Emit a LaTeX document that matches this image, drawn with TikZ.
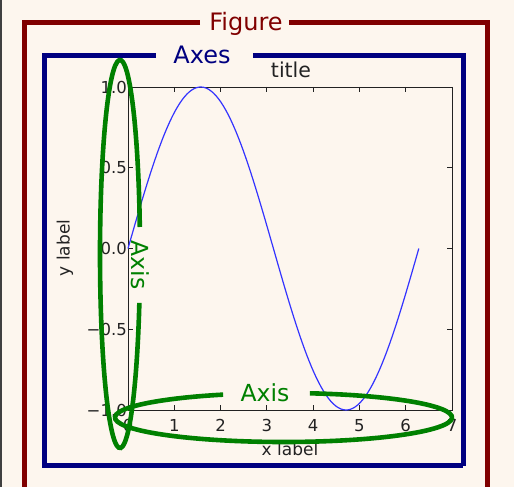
\documentclass[tikz,border=0pt]{standalone}
\usepackage{fontspec}
\setmainfont{DejaVu Sans}
\usetikzlibrary{positioning,calc}

\definecolor{paper}{HTML}{FDF6EE}
\definecolor{figred}{HTML}{800000}
\definecolor{axnavy}{HTML}{000080}
\definecolor{axgreen}{HTML}{008000}
\definecolor{inkgray}{HTML}{222222}

\begin{document}
\begin{tikzpicture}[x=1pt, y=1pt,
    figframe/.style={draw=figred, line width=5pt},
    axframe/.style={draw=axnavy, line width=5pt},
    axisring/.style={draw=axgreen, line width=4.6pt},
    framelabel/.style={font=\fontsize{24}{26}\selectfont, anchor=base, inner sep=0pt},
    ringlabel/.style={font=\fontsize{23.5}{25}\selectfont, text=axgreen, inner sep=0pt},
    ticklabel/.style={font=\fontsize{16.5}{18}\selectfont, text=inkgray, inner sep=1pt},
    plotlabel/.style={font=\fontsize{17}{19}\selectfont, text=inkgray, inner sep=0pt},
    tick/.style={draw=inkgray, line width=0.8pt},
    sine/.style={draw=blue!80!white, line width=1.2pt}
]

% Page and background
\useasboundingbox (0,0) rectangle (514,487);
\fill[paper] (0,0) rectangle (514,487);
\fill[black!75] (0,0) rectangle (2,487);
\clip (0,0) rectangle (514,487);

% Figure frame (runs off the bottom edge)
\node[framelabel, text=figred] (figlbl) at (246,456) {Figure};
\coordinate (figbl) at (24,-10);
\coordinate (figbr) at (487,-10);
\draw[figframe] ([xshift=-9pt]figlbl.base west) ++(0,8) -| (figbl);
\draw[figframe] ([xshift=6pt]figlbl.base east) ++(0,8) -| (figbr);

% Axes frame
\node[framelabel, text=axnavy] (axlbl) at (202,423) {Axes};
\coordinate (axbl) at (44,21);
\coordinate (axbr) at (463,21);
\draw[axframe] ([xshift=-17pt]axlbl.base west) ++(0,8) -| (axbl) -- (axbr);
\draw[axframe] ([xshift=22pt]axlbl.base east) ++(0,8) -| (axbr);

% Plot box
\coordinate (pll) at (128,77);
\coordinate (pur) at (452,400);
\draw[inkgray, line width=0.9pt] (pll) rectangle (pur);

% x ticks
\foreach \k in {0,...,7} {
    \coordinate (xt\k) at ({128+324/7*\k},77);
    \draw[tick] (xt\k) -- ++(0,5);
    \draw[tick] ({128+324/7*\k},400) -- ++(0,-5);
    \node[ticklabel, anchor=north] at ([yshift=-8pt]xt\k) {\k};
}

% y ticks
\foreach \v/\lbl in {-1/−1.0, -0.5/−0.5, 0/0.0, 0.5/0.5, 1/1.0} {
    \coordinate (yt) at (128,{238.5+161.5*\v});
    \draw[tick] (yt) -- ++(5,0);
    \draw[tick] (452,{238.5+161.5*\v}) -- ++(-5,0);
    \node[ticklabel, anchor=east] at ([xshift=0pt]yt) {\lbl};
}

% Labels
\node[plotlabel, anchor=base, font=\fontsize{20.5}{22}\selectfont] (title) at (291,409) {title};
\node[plotlabel, anchor=base] (xlabel) at (290,31) {x label};
\node[plotlabel, rotate=90] (ylabel) at (65,239) {y label};

% Sine curve
\draw[sine] plot[domain=0:6.2832, samples=120] ({128+324/7*\x}, {238.5+161.5*sin(\x r)});

% Axis rings
\coordinate (yring) at (120,233);
\draw[axisring] (yring) ++(8:20 and 194) arc[start angle=8, end angle=345.4, x radius=20, y radius=194];
\node[ringlabel, rotate=-90] (yaxislbl) at (140,222) {Axis};

\coordinate (xring) at (283.5,69.5);
\draw[axisring] (xring) ++(111:168.5 and 24.5) arc[start angle=111, end angle=441, x radius=168.5, y radius=24.5];
\node[ringlabel] (xaxislbl) at (265,94) {Axis};

\end{tikzpicture}
\end{document}
